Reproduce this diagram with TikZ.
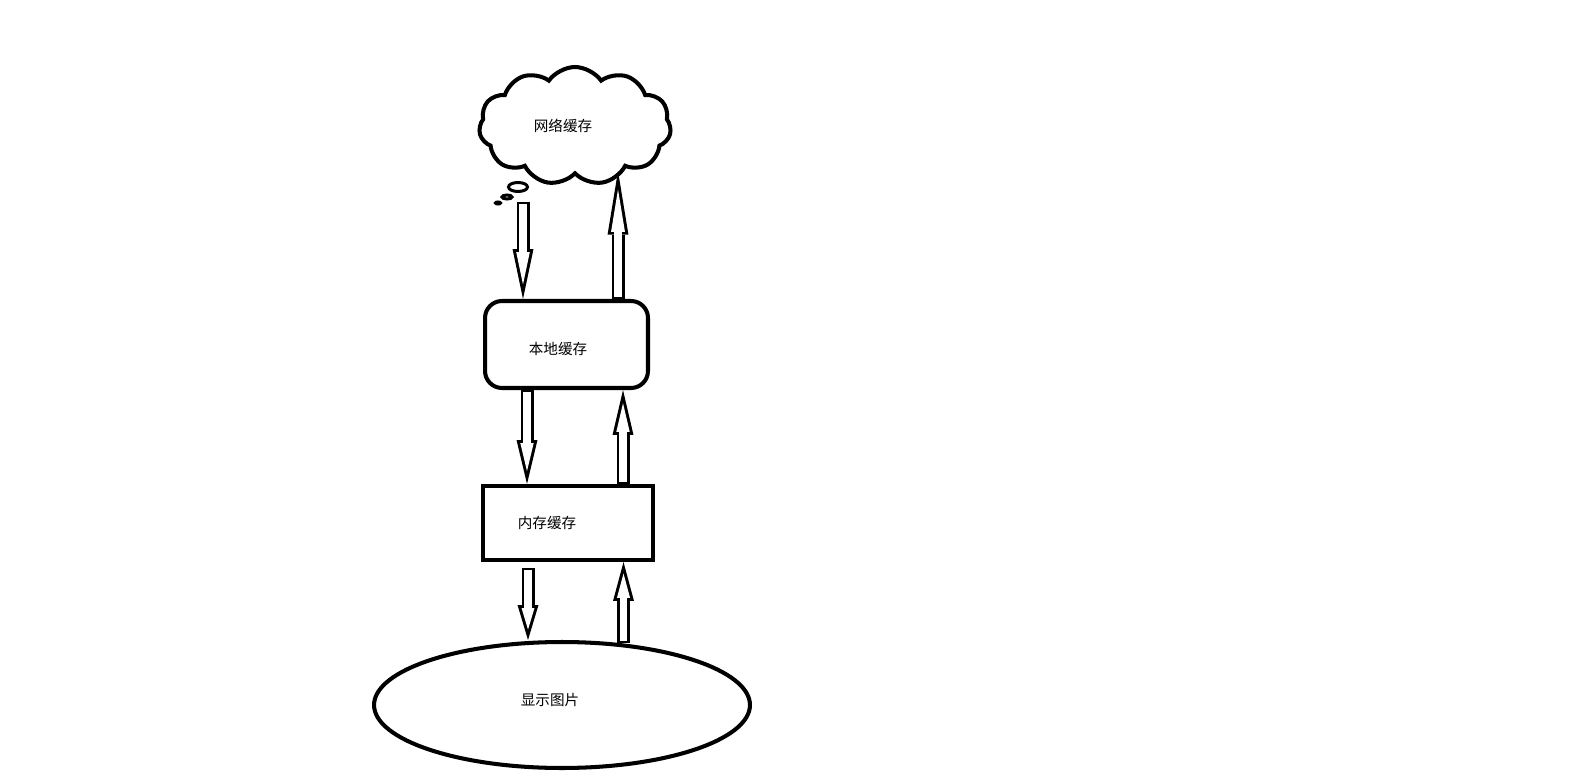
\documentclass[tikz,border=0pt]{standalone}
\usepackage{fontspec}
\newfontfamily\cjk{Noto Sans CJK SC}
\usetikzlibrary{shapes.geometric}
\usetikzlibrary{shapes.symbols}
\usetikzlibrary{arrows.meta}

\begin{document}
\begin{tikzpicture}[x=0.02cm, y=-0.02cm,
  every node/.style={line width=2.3pt, inner sep=0pt},
  every label/.style={font=\cjk\fontsize{8.3}{10}\selectfont, inner sep=0pt},
  % hollow arrow, #1 = head length in px
  hollow/.style={/utils/exec={%
      \pgfmathsetmacro\hd{3*sqrt((#1)*(#1)+110)/10.5}%
      \pgfmathsetmacro\hli{(#1-\hd-3)*0.5669}%
      \pgfmathsetmacro\hwi{21*(#1-\hd-3)/(#1)*0.5669}%
      \pgfmathsetmacro\hlo{(#1)*0.5669}%
      \pgfmathsetmacro\hsh{\hd*0.5669}},
    white, line width=4pt, shorten <=1.15pt, shorten >=\hsh pt,
    -{Triangle[length=\hli pt, width=\hwi pt, line width'=0pt]},
    preaction={draw=black, line width=7.4pt, shorten <=0pt, shorten >=0pt,
      -{Triangle[length=\hlo pt, width=11.9pt, line width'=0pt]}}},
  hollow/.default=45]
\useasboundingbox (0,0) rectangle (1585,773);

% cloud
\node[cloud, cloud puffs=11, cloud puff arc=110, aspect=1.6, draw,
  minimum width=3.84cm, minimum height=2.36cm,
  label={[xshift=-0.24cm]center:网络缓存}] (net) at (575,126) {};
\node[ellipse, draw, line width=1.7pt, minimum width=0.38cm, minimum height=0.18cm] (b1) at (518,187) {};
\node[ellipse, draw, line width=1.7pt, minimum width=0.2cm, minimum height=0.08cm] (b2) at (507,197) {};
\node[ellipse, draw, line width=1.7pt, minimum width=0.1cm, minimum height=0.04cm] (b3) at (498,203) {};

% boxes
\node[draw, rounded corners=0.34cm, minimum width=3.26cm, minimum height=1.74cm,
  label={[xshift=-0.17cm, yshift=-0.09cm]center:本地缓存}] (local) at (566.5,344.5) {};
\node[draw, minimum width=3.4cm, minimum height=1.48cm,
  label={[xshift=-0.42cm]center:内存缓存}] (mem) at (568,523) {};
\node[ellipse, draw, minimum width=7.52cm, minimum height=2.52cm,
  label={[xshift=-0.24cm, yshift=0.1cm]center:显示图片}] (disp) at (562,705) {};

\coordinate (top1) at (523,202);
\coordinate (top2) at (618,171);
\coordinate (col2d) at (527,0);
\coordinate (col2u) at (623,0);
\coordinate (top3) at (528,568);

% arrows
\draw[hollow=50] (top1) -- (local.north -| top1);
\draw[hollow=64] (local.north -| top2) -- (top2);
\draw[hollow=44] (local.south -| col2d) -- (mem.north -| col2d);
\draw[hollow=45] (mem.north -| col2u) -- (local.south -| col2u);
\draw[hollow=35] (top3) -- (disp.north -| top3);
\draw[hollow=39] (disp.45) -- (mem.south -| disp.45);

\end{tikzpicture}
\end{document}
